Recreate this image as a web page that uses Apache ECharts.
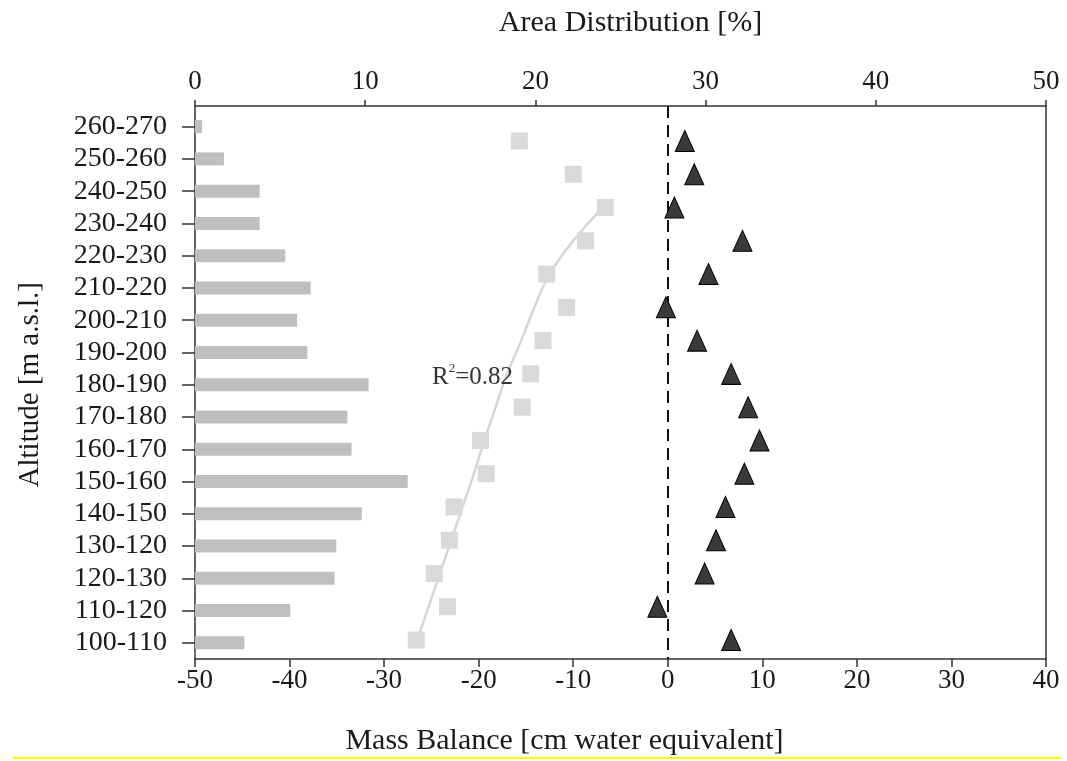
<!DOCTYPE html>
<html>
<head>
<meta charset="utf-8">
<script src="https://cdn.jsdelivr.net/npm/echarts@6/dist/echarts.min.js"></script>
<style>html,body{margin:0;padding:0;background:#fff;}#chart{width:1067px;height:761px;}</style>
</head>
<body>
<div id="chart"></div>
<script>
// Altitude bands (top to bottom, as labelled in the figure)
const categories = ["260-270","250-260","240-250","230-240","220-230","210-220","200-210","190-200","180-190","170-180","160-170","150-160","140-150","130-120","120-130","110-120","100-110"];
// Area distribution per band [%]
const areaPct = [0.42,1.7,3.8,3.8,5.3,6.8,6.0,6.6,10.2,8.95,9.2,12.5,9.8,8.3,8.2,5.6,2.9];
// Light grey squares (top to bottom) [cm w.e.]
const squareBalance = [-15.7,-10.0,-6.6,-8.7,-12.8,-10.7,-13.2,-14.5,-15.4,-19.8,-19.2,-22.6,-23.1,-24.7,-23.3,-26.6];
// Dark triangles (top to bottom) [cm w.e.]
const triangleBalance = [1.8,2.8,0.7,7.9,4.3,-0.2,3.1,6.7,8.5,9.7,8.1,6.1,5.1,3.9,-1.1,6.7];
// Fitted trend curve read at the same rows (null where not drawn)
const trendBalance = [null,null,-6.9,-10.0,-12.5,-14.1,-15.5,-17.0,-18.2,-19.4,-20.5,-21.7,-22.9,-24.1,-25.3,-26.5];
const rSquared = "0.82";
const massTicks = { min: -50, max: 40, interval: 10 };
const areaTicks = { min: 0, max: 50, interval: 10 };

const FONT = "'Liberation Serif', 'DejaVu Serif', serif";
const INK = "#1a1a1a";
const AXIS = "#333";

const chart = echarts.init(document.getElementById('chart'), null, { renderer: 'canvas' });

const toPts = arr => arr.map((v, i) => (v === null ? null : [v, i])).filter(p => p !== null);

chart.setOption({
  animation: false,
  backgroundColor: '#fff',
  grid: [
    { left: 195, right: 21, top: 106, bottom: 102, containLabel: false },
    { left: 195, right: 21, top: 110.5, bottom: 102, containLabel: false }
  ],
  xAxis: [
    {
      gridIndex: 0, type: 'value', position: 'bottom',
      min: massTicks.min, max: massTicks.max, interval: massTicks.interval,
      name: 'Mass Balance [cm water equivalent]',
      nameLocation: 'middle', nameGap: 67,
      nameTextStyle: { fontFamily: FONT, fontSize: 30, color: INK, padding: [0, 112, 0, 0] },
      axisLine: { show: true, onZero: false, lineStyle: { color: AXIS, width: 1.5 } },
      axisTick: { show: true, inside: false, length: 8, lineStyle: { color: AXIS, width: 1.5 } },
      axisLabel: { fontFamily: FONT, fontSize: 27, color: INK, margin: 8 },
      splitLine: { show: false }
    },
    {
      gridIndex: 0, type: 'value', position: 'top',
      min: areaTicks.min, max: areaTicks.max, interval: areaTicks.interval,
      name: 'Area Distribution [%]',
      nameLocation: 'middle', nameGap: 68,
      nameTextStyle: { fontFamily: FONT, fontSize: 30, color: INK, padding: [0, 0, 0, 20] },
      axisLine: { show: true, onZero: false, lineStyle: { color: AXIS, width: 1.5 } },
      axisTick: { show: true, inside: false, length: 6, lineStyle: { color: AXIS, width: 1.5 } },
      axisLabel: { fontFamily: FONT, fontSize: 27, color: INK, margin: 11 },
      splitLine: { show: false }
    },
    {
      gridIndex: 1, type: 'value', position: 'top',
      min: areaTicks.min, max: areaTicks.max,
      show: false
    }
  ],
  yAxis: [
    {
      gridIndex: 0, type: 'value', position: 'left', min: 0, max: 1,
      axisLine: { show: true, onZero: false, lineStyle: { color: AXIS, width: 1.5 } },
      axisTick: { show: false }, axisLabel: { show: false }, splitLine: { show: false }
    },
    {
      gridIndex: 0, type: 'value', position: 'right', inverse: true,
      min: -1.052, max: 15.57,
      axisLine: { show: true, onZero: false, lineStyle: { color: AXIS, width: 1.5 } },
      axisTick: { show: false }, axisLabel: { show: false }, splitLine: { show: false }
    },
    {
      gridIndex: 1, type: 'category', position: 'left', inverse: true,
      data: categories,
      name: 'Altitude [m a.s.l.]',
      nameLocation: 'middle', nameGap: 150,
      nameTextStyle: { fontFamily: FONT, fontSize: 29, color: INK },
      axisLine: { show: false, onZero: false },
      axisTick: { show: true, alignWithLabel: true, length: 13, lineStyle: { color: AXIS, width: 1.5 } },
      axisLabel: { fontFamily: FONT, fontSize: 28, color: INK, margin: 28, interval: 0 },
      splitLine: { show: false }
    }
  ],
  series: [
    {
      type: 'bar', xAxisIndex: 2, yAxisIndex: 2,
      data: areaPct, barWidth: 13,
      itemStyle: { color: '#bfbfbf' },
      silent: true, z: 2
    },
    {
      type: 'line', xAxisIndex: 0, yAxisIndex: 1,
      data: toPts(trendBalance),
      smooth: 0.4, symbol: 'none',
      lineStyle: { color: '#d6d6d6', width: 2.5 },
      silent: true, z: 3
    },
    {
      type: 'scatter', xAxisIndex: 0, yAxisIndex: 1,
      data: toPts(squareBalance),
      symbol: 'rect', symbolSize: 17,
      itemStyle: { color: '#d9d9d9', opacity: 1 },
      silent: true, z: 4
    },
    {
      type: 'scatter', xAxisIndex: 0, yAxisIndex: 1,
      data: toPts(triangleBalance),
      symbol: 'triangle', symbolSize: [19, 21],
      itemStyle: { color: '#3a3a3a', borderColor: '#000', borderWidth: 1, opacity: 1 },
      silent: true, z: 6,
      markLine: {
        silent: true, symbol: 'none', animation: false,
        label: { show: false },
        lineStyle: { color: '#111', width: 2, type: [12, 7] },
        data: [{ xAxis: 0 }],
        z: 5
      }
    }
  ],
  graphic: [
    {
      type: 'text', left: 432, top: 362, z: 10,
      style: {
        text: '{a|R}{s|2}{a|=' + rSquared + '}',
        rich: {
          a: { fontFamily: FONT, fontSize: 25, fill: '#333', verticalAlign: 'bottom', lineHeight: 28 },
          s: { fontFamily: FONT, fontSize: 13, fill: '#333', verticalAlign: 'top', lineHeight: 28 }
        }
      }
    },
    {
      type: 'line', z: 10,
      shape: { x1: 13, y1: 758, x2: 1061, y2: 758 },
      style: { stroke: '#ffff00', lineWidth: 2 }
    }
  ]
});
</script>
</body>
</html>
